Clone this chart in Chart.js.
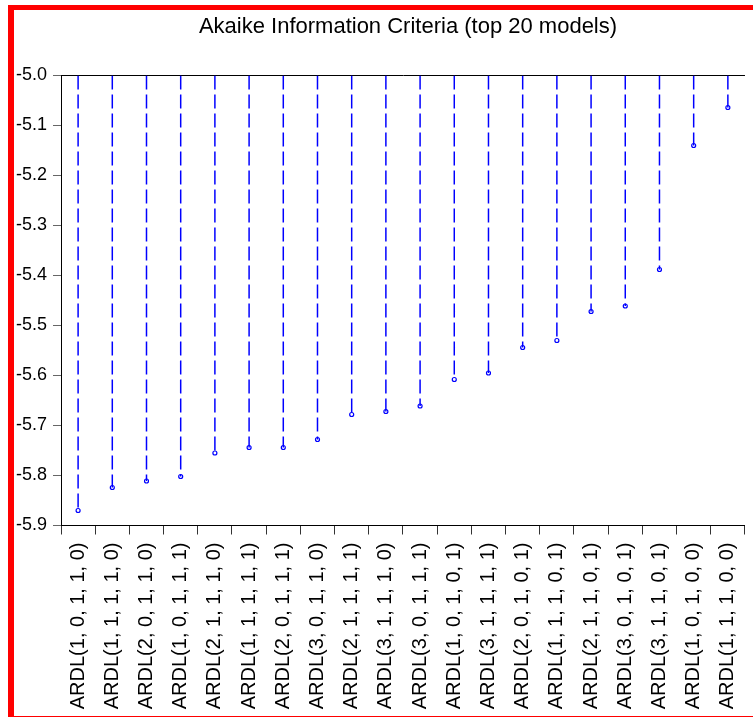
<!DOCTYPE html>
<html>
<head>
<meta charset="utf-8">
<script src="https://cdn.jsdelivr.net/npm/chart.js@4"></script>
<style>
    html, body { margin: 0; padding: 0; background: #fff; overflow: hidden; width: 753px; height: 717px; }
    #wrap { position: relative; width: 753px; height: 717px; overflow: hidden; }
    #chart { position: absolute; left: 0; top: 0; }
    #title {
        position: absolute; left: 61px; width: 694px; top: 15px;
        text-align: center; font: 22px/22px 'Liberation Sans', Arial, sans-serif; color: #000;
    }
    #frame {
        position: absolute; left: 8px; top: 5px; width: 760px; height: 712px;
        box-sizing: border-box; pointer-events: none;
        border-left: 6px solid #ff0000; border-top: 5px solid #ff0000; border-bottom: 1px solid #ff0000;
    }
</style>
</head>
<body>
<div id="wrap">
    <canvas id="chart" width="760" height="717"></canvas>
    <div id="title">Akaike Information Criteria (top 20 models)</div>
    <div id="frame"></div>
</div>
<script>
// Models, ordered by AIC
const models = [
    'ARDL(1, 0, 1, 1, 0)', 'ARDL(1, 1, 1, 1, 0)', 'ARDL(2, 0, 1, 1, 0)', 'ARDL(1, 0, 1, 1, 1)',
    'ARDL(2, 1, 1, 1, 0)', 'ARDL(1, 1, 1, 1, 1)', 'ARDL(2, 0, 1, 1, 1)', 'ARDL(3, 0, 1, 1, 0)',
    'ARDL(2, 1, 1, 1, 1)', 'ARDL(3, 1, 1, 1, 0)', 'ARDL(3, 0, 1, 1, 1)', 'ARDL(1, 0, 1, 0, 1)',
    'ARDL(3, 1, 1, 1, 1)', 'ARDL(2, 0, 1, 0, 1)', 'ARDL(1, 1, 1, 0, 1)', 'ARDL(2, 1, 1, 0, 1)',
    'ARDL(3, 0, 1, 0, 1)', 'ARDL(3, 1, 1, 0, 1)', 'ARDL(1, 0, 1, 0, 0)', 'ARDL(1, 1, 1, 0, 0)'
];
const aic = [
    -5.870, -5.824, -5.811, -5.802, -5.755, -5.744, -5.744, -5.728, -5.678, -5.672,
    -5.661, -5.608, -5.595, -5.544, -5.530, -5.472, -5.461, -5.388, -5.140, -5.064
];
const yMin = -5.9;
const yMax = -5.0;
const yStep = 0.1;

// stems run from the top of the axis down to each value
const stems = [];
models.forEach((m, i) => {
    stems.push({ x: m, y: yMax });
    stems.push({ x: m, y: aic[i] });
    stems.push({ x: m, y: null });
});

const blue = '#0000ff';
const font = "'Liberation Sans', Arial, sans-serif";

new Chart(document.getElementById('chart'), {
    type: 'line',
    data: {
        labels: models,
        datasets: [{
            data: stems,
            borderColor: blue,
            borderWidth: 1.5,
            borderDash: [14, 5],
            pointRadius: 0,
            spanGaps: false,
            fill: false
        }, {
            data: aic,
            showLine: false,
            pointStyle: 'circle',
            pointRadius: 2,
            pointBorderWidth: 1.2,
            pointBorderColor: blue,
            pointBackgroundColor: '#fff'
        }]
    },
    options: {
        responsive: false,
        animation: false,
        layout: { padding: { top: 75.5, right: 5, left: 0, bottom: 0 } },
        plugins: {
            legend: { display: false },
            tooltip: { enabled: false }
        },
        scales: {
            x: {
                offset: true,
                afterFit: s => { s.height = 191.5; },
                grid: {
                    offset: true,
                    drawOnChartArea: false,
                    tickLength: 9,
                    tickColor: '#333'
                },
                border: { color: '#000', width: 1 },
                ticks: {
                    minRotation: 90,
                    maxRotation: 90,
                    autoSkip: false,
                    padding: 8,
                    color: '#000',
                    font: { family: font, size: 20 }
                }
            },
            y: {
                min: yMin,
                max: yMax,
                afterFit: s => { s.width = 61; },
                grid: {
                    color: ctx => (ctx.tick && Math.abs(ctx.tick.value - yMax) < 1e-6) ? '#000' : 'rgba(0,0,0,0)',
                    tickColor: '#666',
                    tickLength: 8
                },
                border: { color: '#000', width: 1 },
                ticks: {
                    stepSize: yStep,
                    padding: 6,
                    color: '#000',
                    font: { family: font, size: 18 },
                    callback: v => v.toFixed(1)
                }
            }
        }
    }
});
</script>
</body>
</html>
